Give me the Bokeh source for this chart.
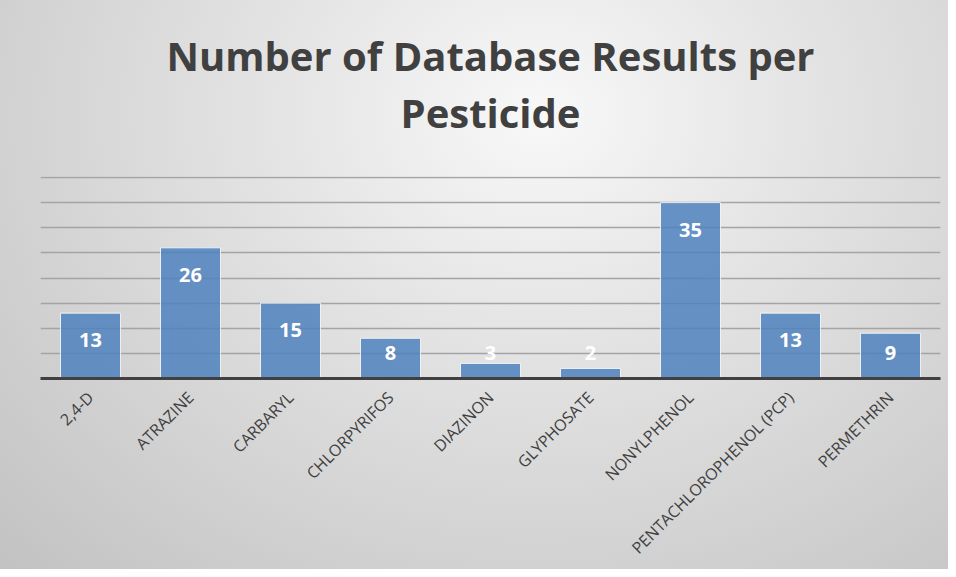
import math
from bokeh.plotting import figure
from bokeh.models import FactorRange, Range1d, Title, SingleIntervalTicker, ColumnDataSource
from bokeh.core.properties import value
from bokeh.embed import file_html
from bokeh.resources import INLINE

# ---- data ----
categories = ["2,4-D", "ATRAZINE", "CARBARYL", "CHLORPYRIFOS", "DIAZINON",
              "GLYPHOSATE", "NONYLPHENOL", "PENTACHLOROPHENOL (PCP)", "PERMETHRIN"]
results = [13, 26, 15, 8, 3, 2, 35, 13, 9]
title_lines = ["Number of Database Results per", "Pesticide"]

# label positions: inside end of bar, clamped for short bars
label_y = [max(v - 5.4, 5.0) for v in results]
src = ColumnDataSource(dict(cat=categories, val=results, ly=label_y,
                            txt=[str(v) for v in results]))

p = figure(x_range=FactorRange(factors=categories, range_padding=0),
           y_range=Range1d(0, 40.2),
           width=948, height=569, title=None,
           output_backend="svg", toolbar_location=None,
           min_border_left=40, min_border_right=8,
           min_border_bottom=190, min_border_top=176)

p.background_fill_color = None
p.border_fill_color = None
p.outline_line_color = None
p.styles = {"background": "radial-gradient(ellipse farthest-corner at 57% 20%, #f8f8f8 0%, #e4e4e4 35%, #c2c2c2 100%)"}

# titles (later added = outermost); a blank spacer keeps a gap above the frame
spacer = Title(text=" ", text_font_size="1px", standoff=34)
t2 = Title(text=title_lines[1], align="center", text_font="Open Sans",
           text_font_size="40px", text_font_style="bold", text_color="#404040",
           standoff=0)
t1 = Title(text=title_lines[0], align="center", text_font="Open Sans",
           text_font_size="40px", text_font_style="bold", text_color="#404040",
           standoff=0)
p.add_layout(spacer, "above")
p.add_layout(t2, "above")
p.add_layout(t1, "above")

# grid
p.xgrid.grid_line_color = None
p.ygrid.ticker = SingleIntervalTicker(interval=5)
p.ygrid.grid_line_color = "#a4a4a4"
p.ygrid.grid_line_width = 1.5

p.yaxis.visible = False

p.vbar(x="cat", top="val", width=0.6, source=src,
       fill_color="#4f81bd", fill_alpha=0.85,
       line_color="white", line_width=1, line_alpha=0.8)

p.text(x="cat", y="ly", text="txt", source=src,
       text_align="center", text_baseline="middle",
       text_color="white", text_font=value("Open Sans"),
       text_font_style="bold", text_font_size="20px")

xa = p.xaxis[0]
xa.major_label_orientation = math.pi / 4
xa.major_tick_line_color = None
xa.minor_tick_line_color = None
xa.axis_line_color = "#404040"
xa.axis_line_width = 3
xa.major_label_text_font = "Open Sans"
xa.major_label_text_font_size = "16px"
xa.major_label_text_color = "#404040"
xa.major_label_standoff = 10

open("out.html", "w").write(file_html(p, INLINE))
